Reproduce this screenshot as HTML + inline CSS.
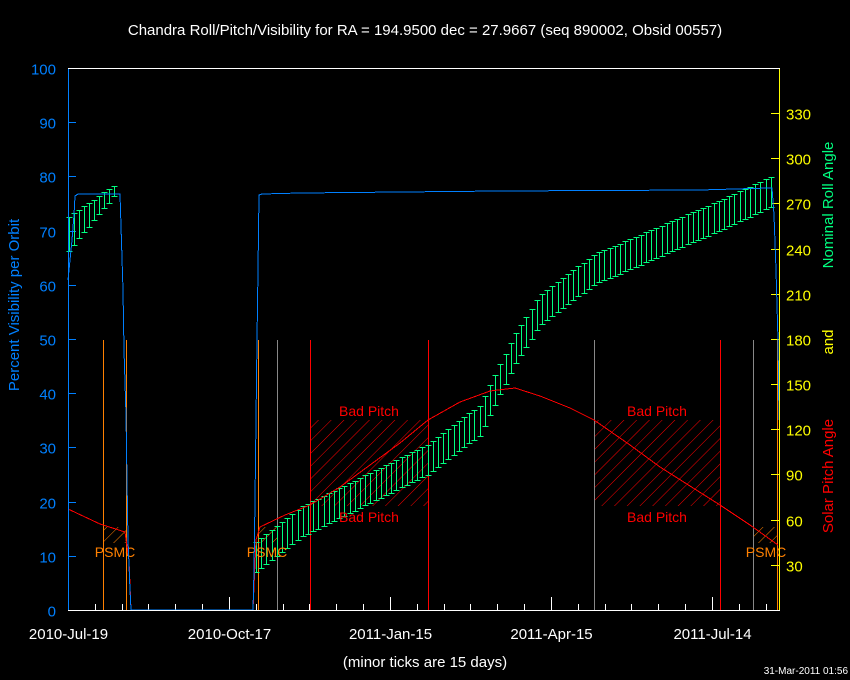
<!DOCTYPE html>
<html><head><meta charset="utf-8"><style>
html,body{margin:0;padding:0;background:#000;}
svg{display:block;font-family:"Liberation Sans",sans-serif;}
line,rect,polyline{shape-rendering:crispEdges;}
</style></head><body>
<svg id="s" width="850" height="680" xmlns="http://www.w3.org/2000/svg">
<defs>
<pattern id="hr" patternUnits="userSpaceOnUse" width="9" height="9" patternTransform="rotate(45)"><line x1="0" y1="0" x2="0" y2="9" stroke="#ff0000" stroke-width="1"/></pattern>
<pattern id="ho" patternUnits="userSpaceOnUse" width="8" height="8" patternTransform="rotate(45)"><line x1="0" y1="0" x2="0" y2="8" stroke="#ff8000" stroke-width="1"/></pattern>
</defs>
<rect width="850" height="680" fill="#000"/>
<text x="425" y="35" fill="#fff" font-size="15" text-anchor="middle">Chandra Roll/Pitch/Visibility for RA = 194.9500 dec = 27.9667 (seq 890002, Obsid 00557)</text>
<rect x="310" y="420" width="118" height="86" fill="url(#hr)"/>
<rect x="594" y="420" width="126" height="86" fill="url(#hr)"/>
<rect x="103" y="527" width="23" height="16" fill="url(#ho)"/>
<rect x="258" y="527" width="19" height="16" fill="url(#ho)"/>
<rect x="753" y="527" width="25" height="16" fill="url(#ho)"/>
<g stroke-width="1">
<line x1="103.5" y1="340" x2="103.5" y2="610" stroke="#ff8000"/>
<line x1="126.5" y1="340" x2="126.5" y2="610" stroke="#ff8000"/>
<line x1="258.5" y1="340" x2="258.5" y2="610" stroke="#ff8000"/>
<line x1="277.5" y1="340" x2="277.5" y2="610" stroke="#888"/>
<line x1="310.5" y1="340" x2="310.5" y2="610" stroke="#ff0000"/>
<line x1="428.5" y1="340" x2="428.5" y2="610" stroke="#ff0000"/>
<line x1="594.5" y1="340" x2="594.5" y2="610" stroke="#888"/>
<line x1="720.5" y1="340" x2="720.5" y2="610" stroke="#ff0000"/>
<line x1="753.5" y1="340" x2="753.5" y2="610" stroke="#888"/>
<line x1="777.5" y1="340" x2="777.5" y2="610" stroke="#ff8000"/>
</g>
<g id="g"></g>
<g font-size="14">
<text x="369" y="416" fill="#ff0000" text-anchor="middle">Bad Pitch</text>
<text x="369" y="522" fill="#ff0000" text-anchor="middle">Bad Pitch</text>
<text x="657" y="416" fill="#ff0000" text-anchor="middle">Bad Pitch</text>
<text x="657" y="522" fill="#ff0000" text-anchor="middle">Bad Pitch</text>
<text x="115" y="557" fill="#ff8000" text-anchor="middle">PSMC</text>
<text x="267" y="557" fill="#ff8000" text-anchor="middle">PSMC</text>
<text x="766" y="557" fill="#ff8000" text-anchor="middle">PSMC</text>
</g>
<polyline fill="none" stroke="#ff0000" points="68,509 100,524 125,532 129,560 131,610"/>
<polyline fill="none" stroke="#ff0000" points="253,610 256,540 260,527 285,515 310,505 340,487 370,465 400,443 428,420 460,402 490,391 515,388 540,396 570,408 594,420 630,445 660,467 690,486 720,505 750,525 778,545"/>
<polyline fill="none" stroke="#0080ff" points="68,280 70,260 72,240 74,215 75,196 78,194 120,194 121,226 123,290 124,350 126,415 127,480 128,540 130,590 131,610 253,610 254,570 255,500 256,420 257,340 258,270 259,195 262,194 300,193 500,191 700,190 770,188 772,188 774,215 776,270 778,340 779,420"/>
<line x1="68.5" y1="68" x2="68.5" y2="611" stroke="#0080ff"/>
<line x1="779.5" y1="68" x2="779.5" y2="611" stroke="#ffff00"/>
<line x1="68" y1="610.5" x2="780" y2="610.5" stroke="#fff"/>
<line x1="68" y1="68.5" x2="780" y2="68.5" stroke="#fff"/>
<text transform="translate(19,305) rotate(-90)" fill="#0080ff" font-size="15" text-anchor="middle">Percent Visibility per Orbit</text>
<text transform="translate(833,205) rotate(-90)" fill="#00ff80" font-size="15" text-anchor="middle">Nominal Roll Angle</text>
<text transform="translate(833,342) rotate(-90)" fill="#ffff00" font-size="15" text-anchor="middle">and</text>
<text transform="translate(833,476) rotate(-90)" fill="#ff0000" font-size="15" text-anchor="middle">Solar Pitch Angle</text>
<text x="425" y="667" fill="#fff" font-size="15" text-anchor="middle">(minor ticks are 15 days)</text>
<text x="848" y="674" fill="#fff" font-size="10" text-anchor="end">31-Mar-2011 01:56</text>
</svg>
<script>
var g=document.getElementById('g'),h='';
for(var v=0;v<=100;v+=10){var y=Math.round(610-v*5.42)+0.5;h+='<line x1="68" y1="'+y+'" x2="76" y2="'+y+'" stroke="#0080ff"/>';
h+='<text x="56" y="'+(y+6)+'" fill="#0080ff" font-size="15" text-anchor="end">'+v+'</text>';}
for(var d=30;d<=330;d+=30){var y=Math.round(610-d*1.5056)+0.5;h+='<line x1="771" y1="'+y+'" x2="779" y2="'+y+'" stroke="#ffff00"/>';
h+='<text x="786" y="'+(y+6)+'" fill="#ffff00" font-size="15">'+d+'</text>';}
var labs=["2010-Jul-19","2010-Oct-17","2011-Jan-15","2011-Apr-15","2011-Jul-14"];
for(var i=0;i<5;i++){var x=68+i*161+0.5;h+='<line x1="'+x+'" y1="597" x2="'+x+'" y2="610" stroke="#fff"/>';
h+='<text x="'+x+'" y="639" fill="#fff" font-size="15" text-anchor="middle">'+labs[i]+'</text>';}
for(var x=68;x<779;x+=26.83){var xx=Math.round(x)+0.5;h+='<line x1="'+xx+'" y1="604" x2="'+xx+'" y2="610" stroke="#fff"/>';}
function roll(x){var P=[[255,35],[300,58],[428,100],[480,126],[515,173],[540,199],[594,226],[650,242],[720,262],[775,279]];
for(var i=0;i<P.length-1;i++){if(x<=P[i+1][0]){var t=(x-P[i][0])/(P[i+1][0]-P[i][0]);return P[i][1]+t*(P[i+1][1]-P[i][1]);}}return 279;}
function bar(x,c,hh){var y=Math.round(610-c*1.5056)+0.5;x=x+0.5;
h+='<line x1="'+x+'" y1="'+(y-hh)+'" x2="'+x+'" y2="'+(y+hh)+'" stroke="#00ff80"/>';
h+='<line x1="'+(x-3)+'" y1="'+(y-hh)+'" x2="'+(x+3)+'" y2="'+(y-hh)+'" stroke="#00ff80"/>';
h+='<line x1="'+(x-3)+'" y1="'+(y+hh)+'" x2="'+(x+3)+'" y2="'+(y+hh)+'" stroke="#00ff80"/>';}
for(var x=69;x<=115;x+=5){var t=(x-69)/46;bar(x,250+t*29,Math.round(17-t*12));}
for(var x=256;x<=776;x+=5.2){bar(Math.round(x),roll(x),15);}
g.innerHTML=h;
</script>
</body></html>
